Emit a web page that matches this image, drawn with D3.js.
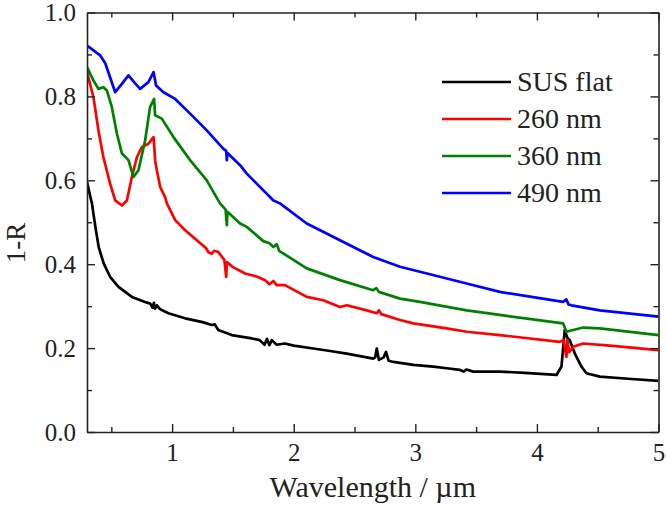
<!DOCTYPE html>
<html>
<head>
<meta charset="utf-8">
<script src="https://cdn.jsdelivr.net/npm/d3@7/dist/d3.min.js"></script>
<style>
  html, body { margin: 0; padding: 0; background: #fff; }
  svg { display: block; }
</style>
</head>
<body>
<svg id="chart" width="666" height="507"></svg>
<script>
// ---------- DATA ----------
const seriesNames = ["SUS flat", "260 nm", "360 nm", "490 nm"];
const seriesColors = ["#000000", "#ff0000", "#008000", "#0000ff"];

const xTicks = [1, 2, 3, 4, 5];
const yTicks = [0.0, 0.2, 0.4, 0.6, 0.8, 1.0];

// [wavelength µm, 1-R]
const susFlat = [
  [0.30,0.596],[0.341,0.544],[0.369,0.489],[0.396,0.441],[0.437,0.402],[0.49,0.370],
  [0.559,0.346],[0.669,0.322],[0.778,0.310],[0.82,0.306],[0.84,0.296],[0.85,0.308],[0.86,0.294],
  [0.875,0.302],[0.9,0.293],[0.969,0.283],[1.107,0.271],[1.25,0.262],[1.326,0.255],[1.35,0.257],
  [1.38,0.243],[1.49,0.231],[1.655,0.223],[1.72,0.219],[1.76,0.208],[1.78,0.222],[1.80,0.207],
  [1.82,0.219],[1.86,0.208],[1.928,0.211],[2.00,0.206],[2.161,0.199],[2.30,0.193],[2.436,0.187],
  [2.654,0.175],[2.67,0.178],[2.683,0.199],[2.70,0.172],[2.74,0.178],[2.759,0.191],[2.78,0.170],
  [2.82,0.167],[2.984,0.160],[3.147,0.156],[3.258,0.152],[3.367,0.148],[3.40,0.144],[3.42,0.149],
  [3.476,0.144],[3.695,0.144],[3.90,0.141],[4.161,0.136],[4.202,0.156],[4.229,0.243],[4.25,0.225],
  [4.27,0.219],[4.312,0.187],[4.366,0.156],[4.407,0.140],[4.517,0.132],[4.75,0.127],[5.0,0.122]
];

const nm260 = [
  [0.30,0.858],[0.353,0.798],[0.394,0.719],[0.435,0.655],[0.49,0.592],[0.532,0.552],[0.587,0.540],
  [0.628,0.552],[0.669,0.608],[0.71,0.655],[0.751,0.679],[0.805,0.687],[0.847,0.703],[0.852,0.687],
  [0.860,0.648],[0.874,0.624],[0.902,0.584],[0.942,0.560],[0.957,0.545],[1.025,0.505],[1.107,0.481],
  [1.203,0.457],[1.28,0.438],[1.30,0.428],[1.326,0.425],[1.345,0.432],[1.38,0.429],[1.43,0.410],
  [1.445,0.370],[1.45,0.405],[1.50,0.393],[1.6,0.378],[1.70,0.370],[1.764,0.362],[1.80,0.352],
  [1.833,0.360],[1.86,0.350],[1.928,0.350],[2.107,0.322],[2.243,0.314],[2.38,0.298],[2.436,0.302],
  [2.60,0.290],[2.683,0.283],[2.70,0.290],[2.72,0.281],[2.874,0.267],[2.984,0.259],[3.258,0.247],
  [3.422,0.239],[3.695,0.231],[4.188,0.215],[4.22,0.219],[4.235,0.190],[4.243,0.179],[4.25,0.219],
  [4.265,0.190],[4.298,0.203],[4.38,0.211],[4.60,0.206],[5.0,0.195]
];

const nm360 = [
  [0.30,0.870],[0.353,0.838],[0.394,0.818],[0.435,0.822],[0.464,0.814],[0.504,0.775],[0.546,0.711],
  [0.587,0.664],[0.641,0.648],[0.682,0.608],[0.723,0.624],[0.778,0.695],[0.819,0.775],[0.852,0.794],
  [0.860,0.755],[0.915,0.747],[1.011,0.703],[1.148,0.648],[1.285,0.600],[1.30,0.592],[1.394,0.545],
  [1.44,0.530],[1.45,0.493],[1.455,0.525],[1.559,0.497],[1.614,0.489],[1.75,0.455],[1.80,0.450],
  [1.833,0.441],[1.86,0.448],[1.88,0.432],[2.107,0.390],[2.38,0.362],[2.654,0.338],[2.68,0.343],
  [2.70,0.334],[2.874,0.318],[3.038,0.310],[3.422,0.290],[3.695,0.279],[4.215,0.259],[4.243,0.239],
  [4.298,0.243],[4.38,0.249],[4.517,0.247],[5.0,0.231]
];

const nm490 = [
  [0.30,0.921],[0.408,0.898],[0.45,0.879],[0.532,0.810],[0.587,0.830],[0.641,0.850],[0.696,0.831],
  [0.737,0.818],[0.805,0.834],[0.847,0.858],[0.868,0.826],[0.929,0.810],[1.025,0.794],[1.148,0.759],
  [1.285,0.719],[1.422,0.675],[1.445,0.670],[1.45,0.648],[1.455,0.665],[1.559,0.636],[1.614,0.616],
  [1.833,0.552],[1.887,0.545],[2.107,0.497],[2.38,0.457],[2.654,0.417],[2.874,0.394],[3.038,0.382],
  [3.422,0.354],[3.695,0.334],[4.215,0.310],[4.243,0.316],[4.26,0.304],[4.284,0.302],[4.517,0.290],
  [5.0,0.275]
];

const allSeries = [susFlat, nm260, nm360, nm490];

// ---------- LAYOUT ----------
const FONT = "'Liberation Serif'";
const svg = d3.select("#chart");
const L = 87, R = 658.5, T = 12.5, B = 432;

const x = d3.scaleLinear().domain([0.3, 5]).range([L, R]);
const y = d3.scaleLinear().domain([0, 1]).range([B, T]);

svg.append("clipPath").attr("id", "clip")
  .append("rect").attr("x", L).attr("y", T).attr("width", R - L).attr("height", B - T);

const line = d3.line().x(d => x(d[0])).y(d => y(d[1]));

const g = svg.append("g").attr("clip-path", "url(#clip)");
allSeries.forEach((s, i) => {
  g.append("path").datum(s)
    .attr("d", line)
    .attr("fill", "none")
    .attr("stroke", seriesColors[i])
    .attr("stroke-width", 2.7)
    .attr("stroke-linejoin", "round");
});

// ---------- AXES ----------
const axisColor = "#222";
const majorLen = 8, minorLen = 5;
const xMinor = d3.range(0.5, 5.01, 0.5).filter(v => !xTicks.includes(v));
const yMinor = d3.range(0.1, 1.0, 0.2);

function styleAxis(sel) {
  sel.attr("font-family", FONT).attr("font-size", 25);
  sel.selectAll("path.domain").attr("stroke", axisColor).attr("stroke-width", 1.6);
  sel.selectAll(".tick line").attr("stroke", axisColor).attr("stroke-width", 1.4);
  sel.selectAll("text").attr("font-family", FONT).style("font-family", FONT)
    .style("font-size", "25px").attr("fill", "#222");
}

// bottom
const gx = svg.append("g").attr("transform", `translate(0,${B})`)
  .call(d3.axisBottom(x).tickValues(xTicks).tickFormat(d3.format("d"))
    .tickSizeInner(-majorLen).tickSizeOuter(0).tickPadding(11));
styleAxis(gx);
svg.append("g").attr("transform", `translate(0,${B})`)
  .call(d3.axisBottom(x).tickValues(xMinor).tickFormat("").tickSizeInner(-minorLen).tickSizeOuter(0))
  .call(s => { s.select("path.domain").remove(); styleAxis(s); });

// top
const gt = svg.append("g").attr("transform", `translate(0,${T})`)
  .call(d3.axisTop(x).tickValues(xTicks).tickFormat("").tickSizeInner(-majorLen).tickSizeOuter(0));
styleAxis(gt);
svg.append("g").attr("transform", `translate(0,${T})`)
  .call(d3.axisTop(x).tickValues(xMinor).tickFormat("").tickSizeInner(-minorLen).tickSizeOuter(0))
  .call(s => { s.select("path.domain").remove(); styleAxis(s); });

// left
const gy = svg.append("g").attr("transform", `translate(${L},0)`)
  .call(d3.axisLeft(y).tickValues(yTicks).tickFormat(d3.format(".1f"))
    .tickSizeInner(-majorLen).tickSizeOuter(0).tickPadding(11));
styleAxis(gy);
svg.append("g").attr("transform", `translate(${L},0)`)
  .call(d3.axisLeft(y).tickValues(yMinor).tickFormat("").tickSizeInner(-minorLen).tickSizeOuter(0))
  .call(s => { s.select("path.domain").remove(); styleAxis(s); });

// right
const gr = svg.append("g").attr("transform", `translate(${R},0)`)
  .call(d3.axisRight(y).tickValues(yTicks).tickFormat("").tickSizeInner(-majorLen).tickSizeOuter(0));
styleAxis(gr);
svg.append("g").attr("transform", `translate(${R},0)`)
  .call(d3.axisRight(y).tickValues(yMinor).tickFormat("").tickSizeInner(-minorLen).tickSizeOuter(0))
  .call(s => { s.select("path.domain").remove(); styleAxis(s); });

// ---------- TITLES ----------
svg.append("text")
  .attr("x", (L + R) / 2).attr("y", 497)
  .attr("text-anchor", "middle")
  .attr("font-family", FONT).style("font-family", FONT)
  .style("font-size", "30px").attr("fill", "#222")
  .text("Wavelength / µm");

svg.append("text")
  .attr("transform", `translate(25,243) rotate(-90)`)
  .attr("text-anchor", "middle")
  .attr("font-family", FONT).style("font-family", FONT)
  .style("font-size", "27px").attr("fill", "#222")
  .text("1-R");

// ---------- LEGEND ----------
const legend = svg.append("g");
seriesNames.forEach((name, i) => {
  const yy = 82 + i * 37;
  legend.append("line")
    .attr("x1", 442).attr("x2", 511).attr("y1", yy).attr("y2", yy)
    .attr("stroke", seriesColors[i]).attr("stroke-width", 2.7);
  legend.append("text")
    .attr("x", 517).attr("y", yy + 9)
    .attr("font-family", FONT).style("font-family", FONT)
    .style("font-size", "28px").attr("fill", "#222")
    .text(name);
});
</script>
</body>
</html>
